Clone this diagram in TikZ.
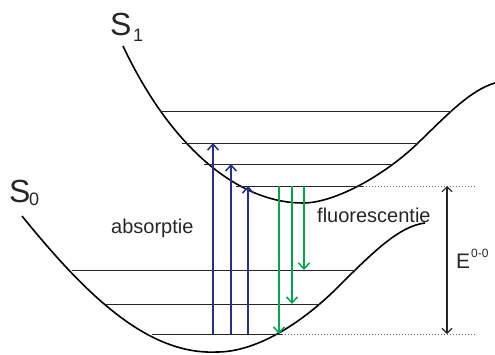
\documentclass[tikz,border=0pt]{standalone}
\usepackage{fontspec}
\setmainfont{Liberation Sans}
\usetikzlibrary{arrows.meta}
\definecolor{absblue}{RGB}{40,45,145}
\definecolor{flgreen}{RGB}{0,165,80}
\tikzset{
  curve/.style={line width=1.6pt, black},
  level/.style={line width=0.8pt, black!85},
  guide/.style={line width=0.6pt, black!60, dash pattern=on 1pt off 2pt},
  absarrow/.style={line width=1.5pt, absblue, -{Straight Barb[length=6pt,width=11pt]}},
  fluarrow/.style={line width=1.5pt, flgreen, -{Straight Barb[length=6pt,width=11pt]}},
  earrow/.style={line width=1.1pt, black!85, {Straight Barb[length=5pt,width=10pt]}-{Straight Barb[length=5pt,width=10pt]}},
  lbl/.style={inner sep=0pt, anchor=base west, text=black!85}
}
\begin{document}
\begin{tikzpicture}[x=1pt,y=-1pt]
\useasboundingbox (0,0) rectangle (495,354);
% S1 potential curve
\coordinate (s1a) at (123,46);
\coordinate (s1b) at (303,203);
\coordinate (s1c) at (418,143);
\coordinate (s1d) at (495,83);
\draw[curve] (s1a) .. controls (172,150) and (240,203) .. (s1b)
  .. controls (335,203) and (385,175) .. (s1c)
  .. controls (445,117) and (470,90) .. (s1d);
% S0 potential curve
\coordinate (s0a) at (22,216);
\coordinate (s0b) at (217,352);
\coordinate (s0c) at (338,287);
\coordinate (s0d) at (425,223);
\draw[curve] (s0a) .. controls (90,300) and (150,355) .. (s0b)
  .. controls (255,352) and (300,325) .. (s0c)
  .. controls (375,250) and (400,226) .. (s0d);
% S1 vibrational levels
\coordinate (a1) at (160,111); \coordinate (b1) at (452,111);
\coordinate (a2) at (182,143); \coordinate (b2) at (418,143);
\coordinate (a3) at (204,164); \coordinate (b3) at (394,164);
\coordinate (a4) at (236,186); \coordinate (b4) at (363,186);
\draw[level] (a1) -- (b1);
\draw[level] (a2) -- (b2);
\draw[level] (a3) -- (b3);
\draw[level] (a4) -- (b4);
% S0 vibrational levels
\coordinate (c1) at (72,270); \coordinate (d1) at (356,270);
\coordinate (c2) at (105,304); \coordinate (d2) at (320,304);
\coordinate (c3) at (152,334); \coordinate (d3) at (282,334);
\draw[level] (c1) -- (d1);
\draw[level] (c2) -- (d2);
\draw[level] (c3) -- (d3);
% dotted guides
\coordinate (g1) at (475,186);
\coordinate (g2) at (475,334);
\draw[guide] (b4) -- (g1);
\draw[guide] (d3) -- (g2);
% absorption arrows
\coordinate (u1) at (213,334); \coordinate (v1) at (213,143);
\coordinate (u2) at (231,334); \coordinate (v2) at (231,164);
\coordinate (u3) at (248,334); \coordinate (v3) at (248,186);
\draw[absarrow] (u1) -- (v1);
\draw[absarrow] (u2) -- (v2);
\draw[absarrow] (u3) -- (v3);
% fluorescence arrows
\coordinate (p1) at (279,186); \coordinate (q1) at (279,334);
\coordinate (p2) at (292,186); \coordinate (q2) at (292,304);
\coordinate (p3) at (304,186); \coordinate (q3) at (304,270);
\draw[fluarrow] (p1) -- (q1);
\draw[fluarrow] (p2) -- (q2);
\draw[fluarrow] (p3) -- (q3);
% E0-0 arrow
\coordinate (e1) at (447,186); \coordinate (e2) at (447,334);
\draw[earrow] (e1) -- (e2);
% labels
\node[lbl, font=\fontsize{32}{32}\selectfont] (s1) at (110,35) {S};
\node[lbl, font=\fontsize{18}{18}\selectfont] (s1i) at (133,41) {1};
\node[lbl, font=\fontsize{32}{32}\selectfont] (s0) at (9,202) {S};
\node[lbl, font=\fontsize{18}{18}\selectfont] (s0i) at (29,205) {0};
\node[lbl, font=\fontsize{20}{20}\selectfont] (abs) at (111,233) {absorptie};
\node[lbl, font=\fontsize{20}{20}\selectfont] (flu) at (317,222) {fluorescentie};
\node[lbl, font=\fontsize{21}{21}\selectfont] (E) at (456,268) {E};
\node[lbl, font=\fontsize{12}{12}\selectfont] (Es) at (471,257) {0-0};
\end{tikzpicture}
\end{document}
